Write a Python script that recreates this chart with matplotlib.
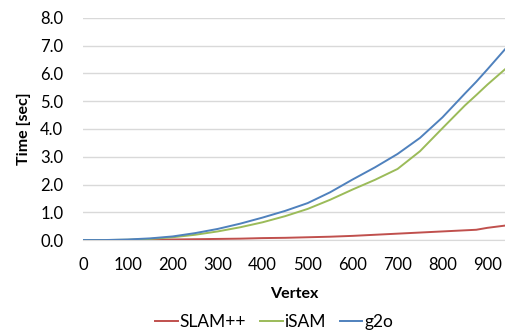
import matplotlib
matplotlib.use("Agg")
import matplotlib.pyplot as plt

plt.rcParams['font.family'] = ['Lato', 'DejaVu Sans']

x_vals = [0, 50, 100, 150, 200, 250, 300, 350, 400, 450, 500, 550, 600, 650, 700, 750, 800, 850, 875, 900, 939]
slam_pp = [0.0, 0.0, 0.0, 0.01, 0.02, 0.03, 0.04, 0.05, 0.07, 0.08, 0.10, 0.12, 0.15, 0.19, 0.23, 0.27, 0.31, 0.35, 0.37, 0.44, 0.52]
isam = [0.0, 0.0, 0.01, 0.04, 0.10, 0.19, 0.31, 0.46, 0.64, 0.86, 1.12, 1.45, 1.82, 2.17, 2.56, 3.20, 4.03, 4.85, 5.22, 5.60, 6.15]
g2o = [0.0, 0.0, 0.02, 0.06, 0.13, 0.25, 0.40, 0.59, 0.81, 1.05, 1.33, 1.72, 2.18, 2.62, 3.10, 3.68, 4.42, 5.28, 5.70, 6.15, 6.87]

x_ticks = [0, 100, 200, 300, 400, 500, 600, 700, 800, 900]
y_ticks = [0, 1, 2, 3, 4, 5, 6, 7, 8]

fig = plt.figure(figsize=(5.05, 3.32), dpi=100)
ax = fig.add_axes([0.164, 0.277, 0.836, 0.669])

ax.plot(x_vals, slam_pp, color='#c0504d', lw=1.4, label='SLAM++')
ax.plot(x_vals, isam, color='#9bbb59', lw=1.4, label='iSAM')
ax.plot(x_vals, g2o, color='#4f81bd', lw=1.4, label='g2o')

ax.set_xlim(0, 939)
ax.set_ylim(0, 8)
ax.set_xticks(x_ticks)
ax.set_yticks(y_ticks)
ax.set_yticklabels([f"{v:.1f}" for v in y_ticks])
ax.tick_params(axis='both', length=0, labelsize=12, colors='#000000')
ax.tick_params(axis='x', pad=12)
ax.tick_params(axis='y', pad=14)
ax.grid(axis='y', color='#d9d9d9', lw=1)
ax.set_axisbelow(True)
for s in ['top', 'right', 'left']:
    ax.spines[s].set_visible(False)
ax.spines['bottom'].set_color('#d9d9d9')
ax.spines['bottom'].set_zorder(0)

ax.set_xlabel('Vertex', fontsize=11.5, fontweight='bold', labelpad=10)
ax.set_ylabel('Time [sec]', fontsize=11.5, fontweight='bold', labelpad=7)

leg = fig.legend(loc='center', bbox_to_anchor=(0.543, 0.03), ncol=3, frameon=False,
                 fontsize=12.5, handlelength=1.3, handletextpad=0.1, columnspacing=0.8)

fig.savefig('out.png', dpi=100)
